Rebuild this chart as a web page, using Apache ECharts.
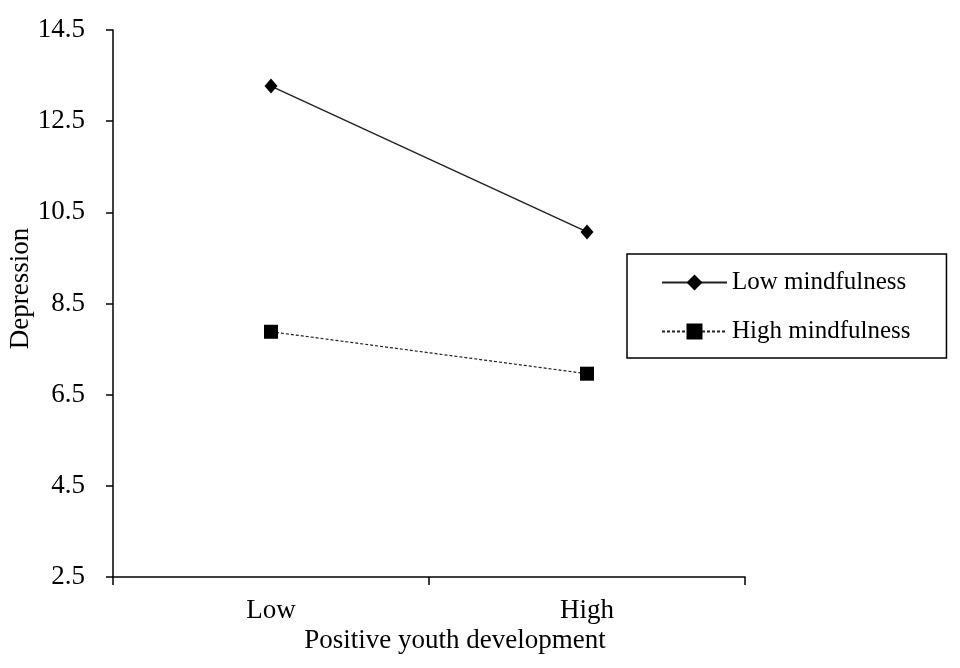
<!DOCTYPE html>
<html>
<head>
<meta charset="utf-8">
<script src="https://cdn.jsdelivr.net/npm/echarts@6/dist/echarts.min.js"></script>
<style>html,body{margin:0;padding:0;background:#fff;}#c{width:960px;height:668px;}</style>
</head>
<body>
<div id="c"></div>
<script>
var categories = ['Low', 'High'];
var lowMindfulness = [13.27, 10.07];
var highMindfulness = [7.88, 6.96];
var yTicks = [2.5, 4.5, 6.5, 8.5, 10.5, 12.5, 14.5];

var FONT = 'Liberation Serif';
var chart = echarts.init(document.getElementById('c'));
chart.setOption({
  backgroundColor: '#fff',
  animation: false,
  textStyle: { fontFamily: FONT, color: '#000' },
  grid: { left: 113, top: 30, right: 215, bottom: 91, containLabel: false, outerBoundsMode: 'none' },
  legend: {
    orient: 'vertical',
    left: 627, top: 254,
    padding: [16, 36, 14, 34],
    itemWidth: 65, itemHeight: 20, itemGap: 24,
    borderColor: '#000', borderWidth: 1.5,
    textStyle: { fontFamily: FONT, fontSize: 25, color: '#000' },
    data: ['Low mindfulness', 'High mindfulness']
  },
  xAxis: {
    type: 'category',
    data: categories,
    boundaryGap: true,
    name: 'Positive youth development',
    nameLocation: 'middle',
    nameGap: 50,
    nameMoveOverlap: false,
    nameTextStyle: { fontFamily: FONT, fontSize: 27, color: '#000', padding: [0, 0, 0, 52] },
    axisLine: { lineStyle: { color: '#000', width: 1.5 } },
    axisTick: { show: true, length: 8, lineStyle: { color: '#000', width: 1.5 } },
    axisLabel: { fontFamily: FONT, fontSize: 27, color: '#000', margin: 20 },
    splitLine: { show: false }
  },
  yAxis: {
    type: 'value',
    min: yTicks[0], max: yTicks[yTicks.length - 1], interval: 2,
    name: 'Depression',
    nameLocation: 'middle',
    nameGap: 79,
    nameMoveOverlap: false,
    nameTextStyle: { fontFamily: FONT, fontSize: 27, color: '#000', padding: [0, 0, 0, 30] },
    axisLine: { show: true, lineStyle: { color: '#000', width: 1.5 } },
    axisTick: { show: true, length: 7, lineStyle: { color: '#000', width: 1.5 } },
    axisLabel: { fontFamily: FONT, fontSize: 27, color: '#000', margin: 28,
      formatter: function (v) { return v.toFixed(1); } },
    splitLine: { show: false }
  },
  series: [
    {
      name: 'Low mindfulness', type: 'line', data: lowMindfulness,
      symbol: 'diamond', symbolSize: [13, 15],
      itemStyle: { color: '#000' },
      lineStyle: { color: '#222', width: 1.5, type: 'solid' }
    },
    {
      name: 'High mindfulness', type: 'line', data: highMindfulness,
      symbol: 'rect', symbolSize: 14,
      itemStyle: { color: '#000' },
      lineStyle: { color: '#222', width: 1.2, type: [3, 2] }
    }
  ]
});
</script>
</body>
</html>
